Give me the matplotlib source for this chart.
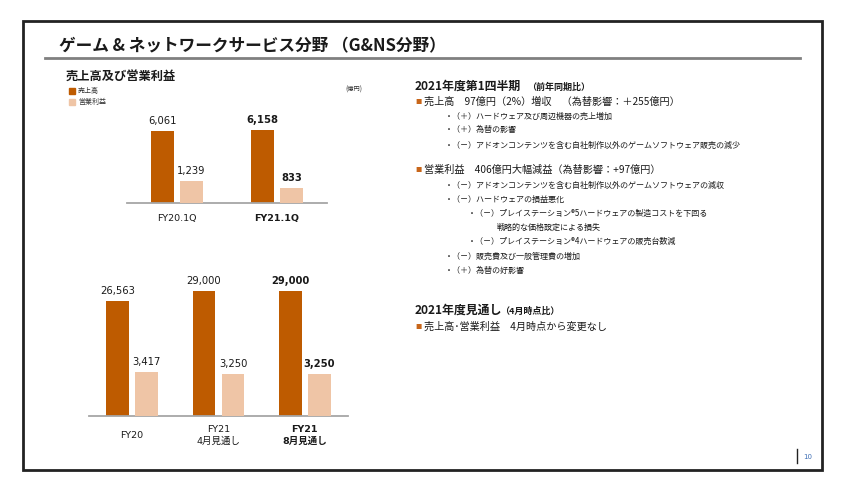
import matplotlib
matplotlib.use('Agg')
import matplotlib.pyplot as plt
from matplotlib.patches import Rectangle
from matplotlib.lines import Line2D

plt.rcParams['font.family'] = ['DejaVu Sans', 'Noto Sans CJK JP']

# data
q_periods = ['FY20.1Q', 'FY21.1Q']
q_sales = [6061, 6158]
q_profit = [1239, 833]
q_bold = [False, True]

y_periods = ['FY20', 'FY21\n4月見通し', 'FY21\n8月見通し']
y_sales = [26563, 29000, 29000]
y_profit = [3417, 3250, 3250]
y_bold = [False, False, True]

SALES_C = '#BE5B00'
PROFIT_C = '#EFC5A6'
TEXT_C = '#1A1A1A'
JP = ['Noto Sans CJK JP', 'DejaVu Sans']

W, H = 858, 492
fig = plt.figure(figsize=(W / 100, H / 100), dpi=100)


def fx(x):
    return x / W


def fy(y):
    return 1 - y / H


def rect(l, t, r, b):
    return [fx(l), fy(b), fx(r) - fx(l), fy(t) - fy(b)]


# slide frame and title
fig.patches.append(Rectangle((fx(23), fy(470)), fx(822) - fx(23), fy(21) - fy(470),
                             transform=fig.transFigure, fill=False, ec='#222222', lw=2))
fig.lines.append(Line2D([fx(45), fx(800)], [fy(58), fy(58)], transform=fig.transFigure,
                        color='#808080', lw=2))
fig.text(fx(59), fy(46), 'ゲーム & ネットワークサービス分野 （G&NS分野）', family=JP,
         fontsize=12, weight='bold', color=TEXT_C, va='center')
fig.text(fx(66), fy(76), '売上高及び営業利益', family=JP, fontsize=8.8, weight='bold',
         color=TEXT_C, va='center')

# legend
for yy, c, lab in [(91, SALES_C, '売上高'), (102, PROFIT_C, '営業利益')]:
    fig.patches.append(Rectangle((fx(69), fy(yy + 3)), fx(6), fy(0) - fy(6),
                                 transform=fig.transFigure, color=c))
    fig.text(fx(78), fy(yy), lab, family=JP, fontsize=5, color='#333333', va='center')
fig.text(fx(345), fy(90), '(億円)', family=JP, fontsize=4.5, color='#333333', va='center')


def bar_chart(box, periods, sales, profit, bold, width, off, s_lim, p_lim, lab_dy):
    ax = fig.add_axes(rect(*box))
    ax2 = ax.twinx()
    xs = list(range(len(periods)))
    ax.bar([x - off for x in xs], sales, width, color=SALES_C)
    ax2.bar([x + off for x in xs], profit, width, color=PROFIT_C)
    ax.set_xlim(-0.5, len(periods) - 0.5)
    ax.set_ylim(0, s_lim)
    ax2.set_ylim(0, p_lim)
    for a in (ax, ax2):
        for s in a.spines.values():
            s.set_visible(False)
        a.set_xticks([])
        a.set_yticks([])
        a.patch.set_visible(False)
    ax.spines['bottom'].set_visible(True)
    ax.spines['bottom'].set_color('#A6A6A6')
    ax.spines['bottom'].set_linewidth(1.3)
    for i, x in enumerate(xs):
        w = 'bold' if bold[i] else 'normal'
        ax.annotate(f'{sales[i]:,}', (x - off, sales[i]), xytext=(0, 3.5),
                    textcoords='offset points', ha='center', va='bottom',
                    fontsize=7.2, weight=w, color=TEXT_C)
        ax2.annotate(f'{profit[i]:,}', (x + off, profit[i]), xytext=(0, 3.5),
                     textcoords='offset points', ha='center', va='bottom',
                     fontsize=7.2, weight=w, color=TEXT_C)
        ax.annotate(periods[i], (x, 0), xytext=(0, -lab_dy), textcoords='offset points',
                    ha='center', va='center', fontsize=6.8, weight=w, color=TEXT_C,
                    linespacing=1.25)


bar_chart((127, 110, 327, 203), q_periods, q_sales, q_profit, q_bold,
          0.23, 0.143, 7830, 5200, 11)
bar_chart((89, 276, 348, 416), y_periods, y_sales, y_profit, y_bold,
          0.266, 0.168, 32390, 10895, 14)

# commentary on the right
ORANGE = '#C8661A'
fig.text(fx(415), fy(86), '2021年度第1四半期', family=JP, fontsize=8.6, weight='bold',
         color=TEXT_C, va='center')
fig.text(fx(527), fy(87), '（前年同期比）', family=JP, fontsize=6.5, weight='bold',
         color=TEXT_C, va='center')
fig.text(fx(415), fy(310), '2021年度見通し', family=JP, fontsize=8.6, weight='bold',
         color=TEXT_C, va='center')
fig.text(fx(500), fy(311), '（4月時点比）', family=JP, fontsize=6.5, weight='bold',
         color=TEXT_C, va='center')

bullets = [
    (102, '売上高　97億円（2%）増収　（為替影響：＋255億円）'),
    (170, '営業利益　406億円大幅減益（為替影響：+97億円）'),
    (327, '売上高･営業利益　4月時点から変更なし'),
]
for yy, t in bullets:
    fig.text(fx(415), fy(yy), '■', family=JP, fontsize=4.5, color=ORANGE, va='center')
    fig.text(fx(424), fy(yy), t, family=JP, fontsize=7.3, color=TEXT_C, va='center')

items = [
    (445, 116, '・（＋）ハードウェア及び周辺機器の売上増加'),
    (445, 130, '・（＋）為替の影響'),
    (445, 145, '・（－）アドオンコンテンツを含む自社制作以外のゲームソフトウェア販売の減少'),
    (445, 185, '・（－）アドオンコンテンツを含む自社制作以外のゲームソフトウェアの減収'),
    (445, 199, '・（－）ハードウェアの損益悪化'),
    (468, 213, '・（－）プレイステーション®5ハードウェアの製造コストを下回る'),
    (497, 227, '戦略的な価格設定による損失'),
    (468, 241, '・（－）プレイステーション®4ハードウェアの販売台数減'),
    (445, 256, '・（－）販売費及び一般管理費の増加'),
    (445, 270, '・（＋）為替の好影響'),
]
for xx, yy, t in items:
    fig.text(fx(xx), fy(yy), t, family=JP, fontsize=5.8, color=TEXT_C, va='center')

# page number
fig.lines.append(Line2D([fx(797), fx(797)], [fy(449), fy(463)], transform=fig.transFigure,
                        color='#222222', lw=1))
fig.text(fx(803), fy(457), '10', fontsize=5, color='#3F6FB5', va='center')

fig.savefig('out.png', dpi=100, facecolor='white')
